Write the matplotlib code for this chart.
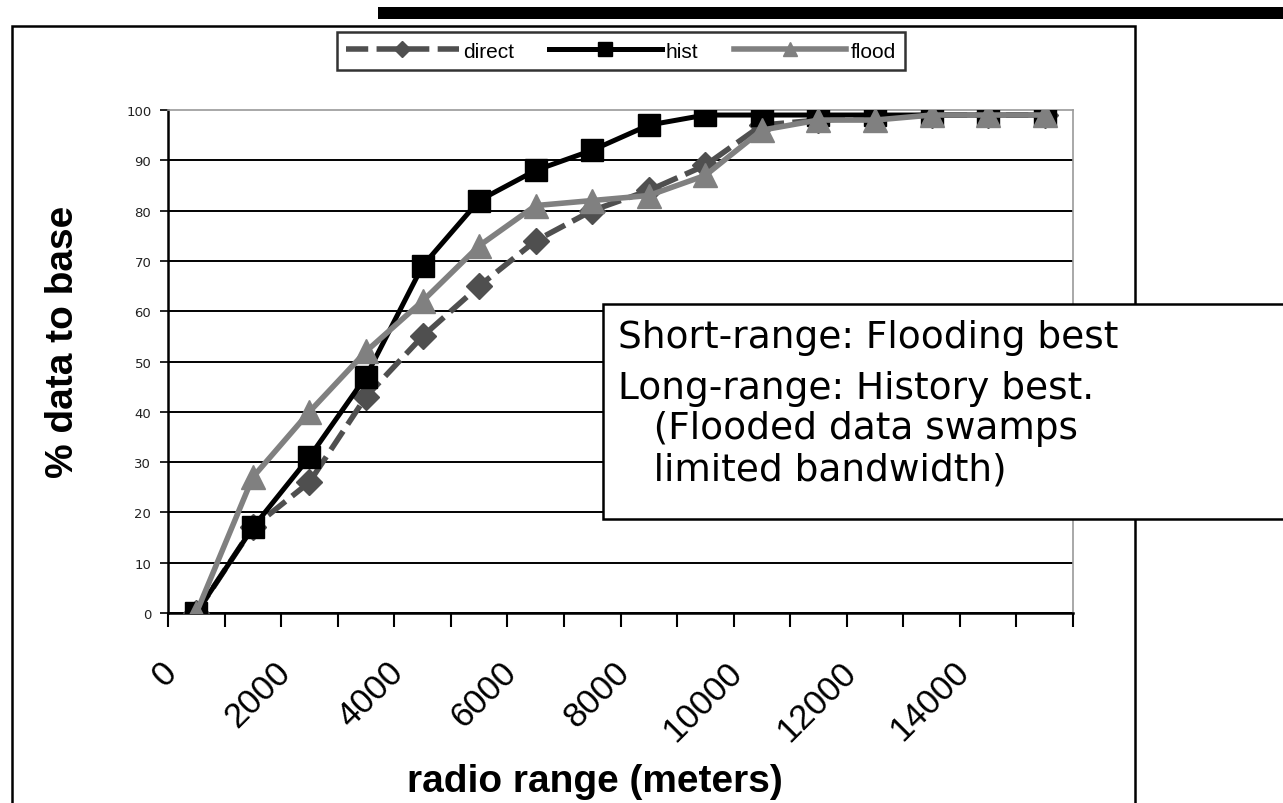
import matplotlib
matplotlib.use("Agg")
import matplotlib.pyplot as plt
import matplotlib.transforms as mtransforms
from matplotlib.patches import Rectangle
import numpy as np

# radio range categories (meters)
ranges = [0, 1000, 2000, 3000, 4000, 5000, 6000, 7000, 8000,
          9000, 10000, 11000, 12000, 13000, 14000, 15000]
direct = [0, 17, 26, 43, 55, 65, 74, 80, 84, 89, 97, 98, 98.5, 99, 99, 99]
hist = [0, 17, 31, 47, 69, 82, 88, 92, 97, 99, 99, 99, 99, 99, 99, 99]
flood = [0, 27, 40, 52, 62, 73, 81, 82, 83, 87, 96, 98, 98, 99, 99, 99]
y_ticks = [0, 10, 20, 30, 40, 50, 60, 70, 80, 90, 100]
note_lines = ["Short-range: Flooding best",
              "Long-range: History best.",
              "   (Flooded data swamps",
              "   limited bandwidth)"]

W, H = 1283, 804
fig = plt.figure(figsize=(W / 100, H / 100), dpi=100)
fig.patch.set_facecolor("white")


def fx(px):
    return px / W


def fy(py):
    return 1 - py / H


ax = fig.add_axes([fx(168), fy(614), fx(1073) - fx(168), fy(111) - fy(614)])
x = np.arange(len(ranges))

ax.plot(x, direct, color="#4f4f4f", linewidth=4, linestyle=(0, (4, 1.5)),
        marker="D", markersize=13, label="direct", zorder=3)
ax.plot(x, hist, color="black", linewidth=3.6, marker="s", markersize=16,
        label="hist", zorder=4)
ax.plot(x, flood, color="#808080", linewidth=4, marker="^", markersize=17,
        label="flood", zorder=5)

ax.set_xlim(-0.5, len(ranges) - 0.5)
ax.set_ylim(0, 100)

ax.set_yticks(y_ticks)
ax.set_yticklabels([str(v) for v in y_ticks], fontsize=9.5, color="#222222",
                   family="DejaVu Sans")
ax.tick_params(axis="y", length=6, width=1.2, direction="out", pad=6)

ax.set_xticks(x[::2])
ax.set_xticklabels([str(r) for r in ranges[::2]], rotation=45, ha="right",
                   va="top", rotation_mode="anchor", fontsize=25,
                   family="Liberation Sans")
ax.tick_params(axis="x", which="major", length=0, pad=30)
shift = mtransforms.ScaledTranslation(-0.36, 0, fig.dpi_scale_trans)
for lbl in ax.get_xticklabels():
    lbl.set_transform(lbl.get_transform() + shift)
ax.set_xticks(np.arange(-0.5, len(ranges), 1.0), minor=True)
ax.tick_params(axis="x", which="minor", length=10, width=1.5, direction="out")

ax.yaxis.grid(True, color="black", linewidth=1.4)
ax.get_ygridlines()[-1].set_visible(False)
ax.set_axisbelow(True)
for side in ["left", "bottom"]:
    ax.spines[side].set_color("black")
    ax.spines[side].set_linewidth(1.8)
for side in ["top", "right"]:
    ax.spines[side].set_color("#9a9a9a")
    ax.spines[side].set_linewidth(1.2)

# outer chart frame and heavy bar above it
fig.add_artist(Rectangle((fx(12), fy(820)), fx(1135) - fx(12), fy(27) - fy(820),
                         transform=fig.transFigure, fill=False,
                         edgecolor="black", linewidth=1.8, clip_on=False))
fig.add_artist(Rectangle((fx(378), fy(20)), 1 - fx(378), fy(8) - fy(20),
                         transform=fig.transFigure, facecolor="black",
                         edgecolor="none"))

leg = fig.legend(loc="center", bbox_to_anchor=(fx(621), fy(52)), ncol=3,
                 frameon=True, fancybox=False,
                 prop={"family": "Liberation Sans", "size": 15},
                 handlelength=5.4, columnspacing=1.7, handletextpad=0.2,
                 borderpad=0.45, markerscale=0.6)
leg.get_frame().set_edgecolor("black")
leg.get_frame().set_linewidth(1.8)

fig.text(fx(63), fy(342), "% data to base", rotation=90, ha="center", va="center",
         fontsize=28, fontweight="bold", family="Liberation Sans")
fig.text(fx(595), fy(782), "radio range (meters)", ha="center", va="center",
         fontsize=28, fontweight="bold", family="Liberation Sans")

# annotation box
fig.add_artist(Rectangle((fx(603), fy(520)), 1 - fx(603) + 0.01, fy(305) - fy(520),
                         transform=fig.transFigure, facecolor="white",
                         edgecolor="black", linewidth=1.8, zorder=10, clip_on=False))
line_y = [338, 389, 429, 471]
for txt, py in zip(note_lines, line_y):
    fig.text(fx(618), fy(py), txt, ha="left", va="center", fontsize=27,
             family="DejaVu Sans", zorder=11)

fig.savefig("out.png", dpi=100)
